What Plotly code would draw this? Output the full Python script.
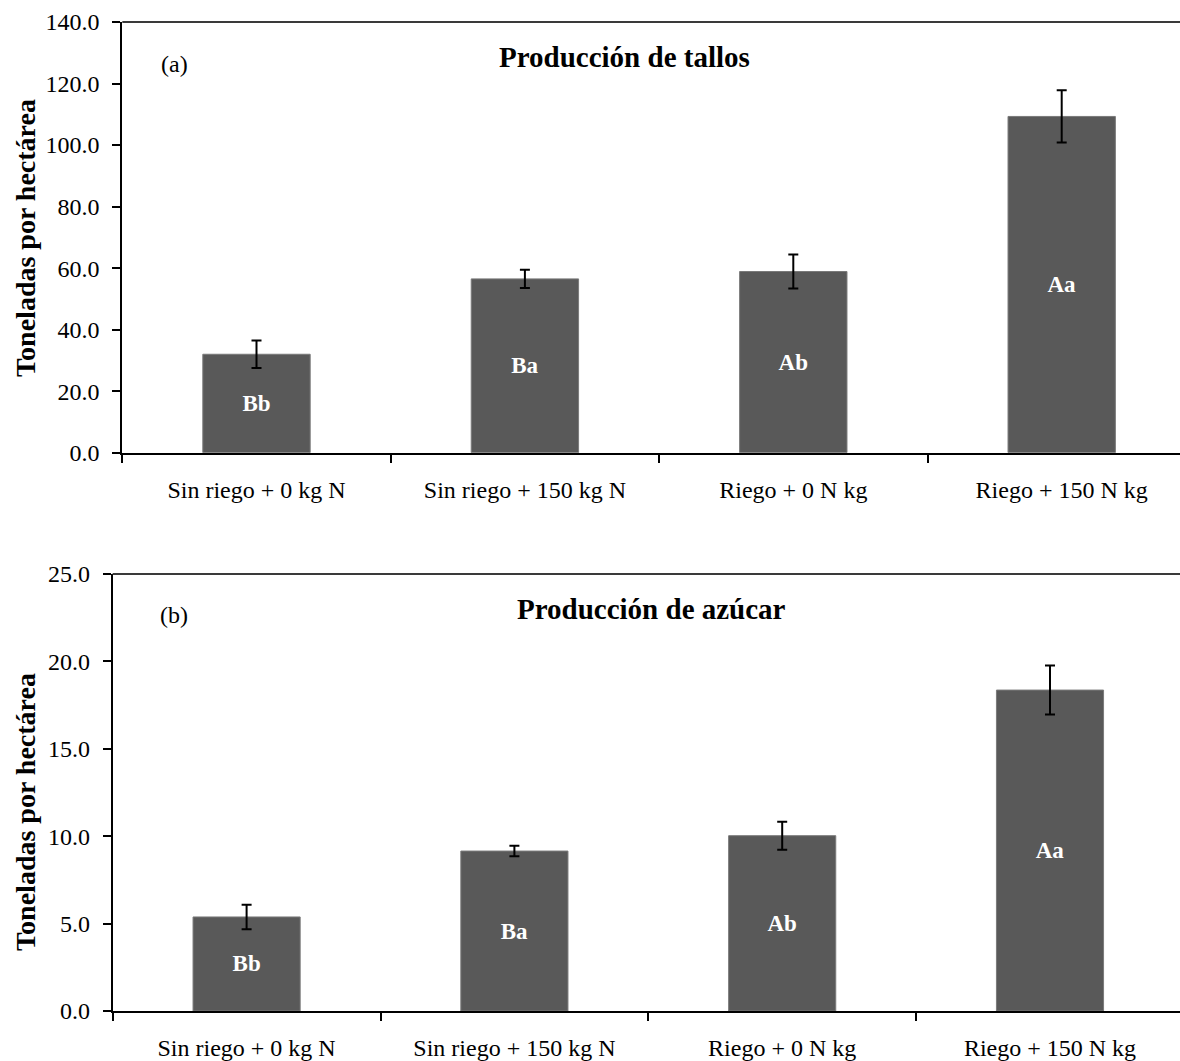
import plotly.graph_objects as go

categories = ["Sin riego + 0 kg N", "Sin riego + 150 kg N", "Riego + 0 N kg", "Riego + 150 N kg"]
tallos = [32.0, 56.5, 58.9, 109.3]
tallos_err = [4.5, 3.0, 5.5, 8.5]
tallos_letters = ["Bb", "Ba", "Ab", "Aa"]
azucar = [5.38, 9.15, 10.03, 18.36]
azucar_err = [0.7, 0.3, 0.8, 1.4]
azucar_letters = ["Bb", "Ba", "Ab", "Aa"]

FONT = "Liberation Serif"
BAR = "#595959"
W, H = 1180, 1061

fig = go.Figure()

def add_bars(y, err, letters, xa, ya):
    fig.add_trace(go.Bar(
        x=categories, y=y, text=letters, textposition="inside",
        insidetextanchor="middle", textangle=0,
        textfont=dict(family=FONT, size=23, color="white", weight="bold"),
        marker=dict(color=BAR, line=dict(color="#7a7a7a", width=1)),
        error_y=dict(type="data", array=err, visible=True, color="black", thickness=2, width=5),
        xaxis=xa, yaxis=ya, showlegend=False, cliponaxis=False,
    ))

add_bars(tallos, tallos_err, tallos_letters, "x", "y")
add_bars(azucar, azucar_err, azucar_letters, "x2", "y2")

top_dom = [1 - 452.7 / H, 1 - 22 / H]
bot_dom = [1 - 1011 / H, 1 - 574 / H]
top_x0 = 122.3 / W
bot_x0 = 112.7 / W

xcommon = dict(type="category", showline=True, linecolor="black", linewidth=2,
               ticks="outside", ticklen=8, tickwidth=1.5, tickcolor="black",
               tickson="boundaries", showgrid=False, zeroline=False, automargin=False,
               tickfont=dict(family=FONT, size=24, color="black"),
               ticklabelstandoff=14)
ycommon = dict(showline=True, linecolor="black", linewidth=2, ticks="outside",
               ticklen=8, tickwidth=1.5, tickcolor="black", showgrid=False,
               zeroline=False, tickformat=".1f", automargin=False,
               tickfont=dict(family=FONT, size=24, color="black"),
               ticklabelstandoff=8)

fig.update_layout(
    width=W, height=H, margin=dict(l=0, r=0, t=0, b=0, autoexpand=False),
    plot_bgcolor="white", paper_bgcolor="white", bargap=0.6,
    xaxis=dict(**xcommon, domain=[top_x0, 1], range=[-0.5, -0.5 + (W - 122.3) / 268.4], anchor="y"),
    yaxis=dict(**ycommon, domain=top_dom, range=[0, 140], dtick=20, anchor="x"),
    xaxis2=dict(**xcommon, domain=[bot_x0, 1], range=[-0.5, -0.5 + (W - 112.7) / 267.8], anchor="y2"),
    yaxis2=dict(**ycommon, domain=bot_dom, range=[0, 25], dtick=5, anchor="x2"),
)

# top frame lines
for x0, dom in [(top_x0, top_dom), (bot_x0, bot_dom)]:
    fig.add_shape(type="line", xref="paper", yref="paper", x0=x0, x1=1, y0=dom[1], y1=dom[1],
                  line=dict(color="#3a3a3a", width=2))

ann = []
ann.append(dict(text="<b>Producción de tallos</b>", x=624 / W, y=1 - 57 / H))
ann.append(dict(text="<b>Producción de azúcar</b>", x=651 / W, y=1 - 609 / H))
for a in ann:
    a.update(xref="paper", yref="paper", xanchor="center", yanchor="middle", showarrow=False,
             font=dict(family=FONT, size=29, color="black"))
extra = [
    dict(text="(a)", x=174 / W, y=1 - 64 / H, font=dict(family=FONT, size=24, color="black")),
    dict(text="(b)", x=174 / W, y=1 - 615 / H, font=dict(family=FONT, size=24, color="black")),
    dict(text="<b>Toneladas por hectárea</b>", x=25 / W, y=1 - 238 / H, textangle=-90,
         font=dict(family=FONT, size=28, color="black")),
    dict(text="<b>Toneladas por hectárea</b>", x=25 / W, y=1 - 812 / H, textangle=-90,
         font=dict(family=FONT, size=28, color="black")),
]
for a in extra:
    a.update(xref="paper", yref="paper", xanchor="center", yanchor="middle", showarrow=False)
fig.update_layout(annotations=ann + extra)

fig.write_html("out.html")
